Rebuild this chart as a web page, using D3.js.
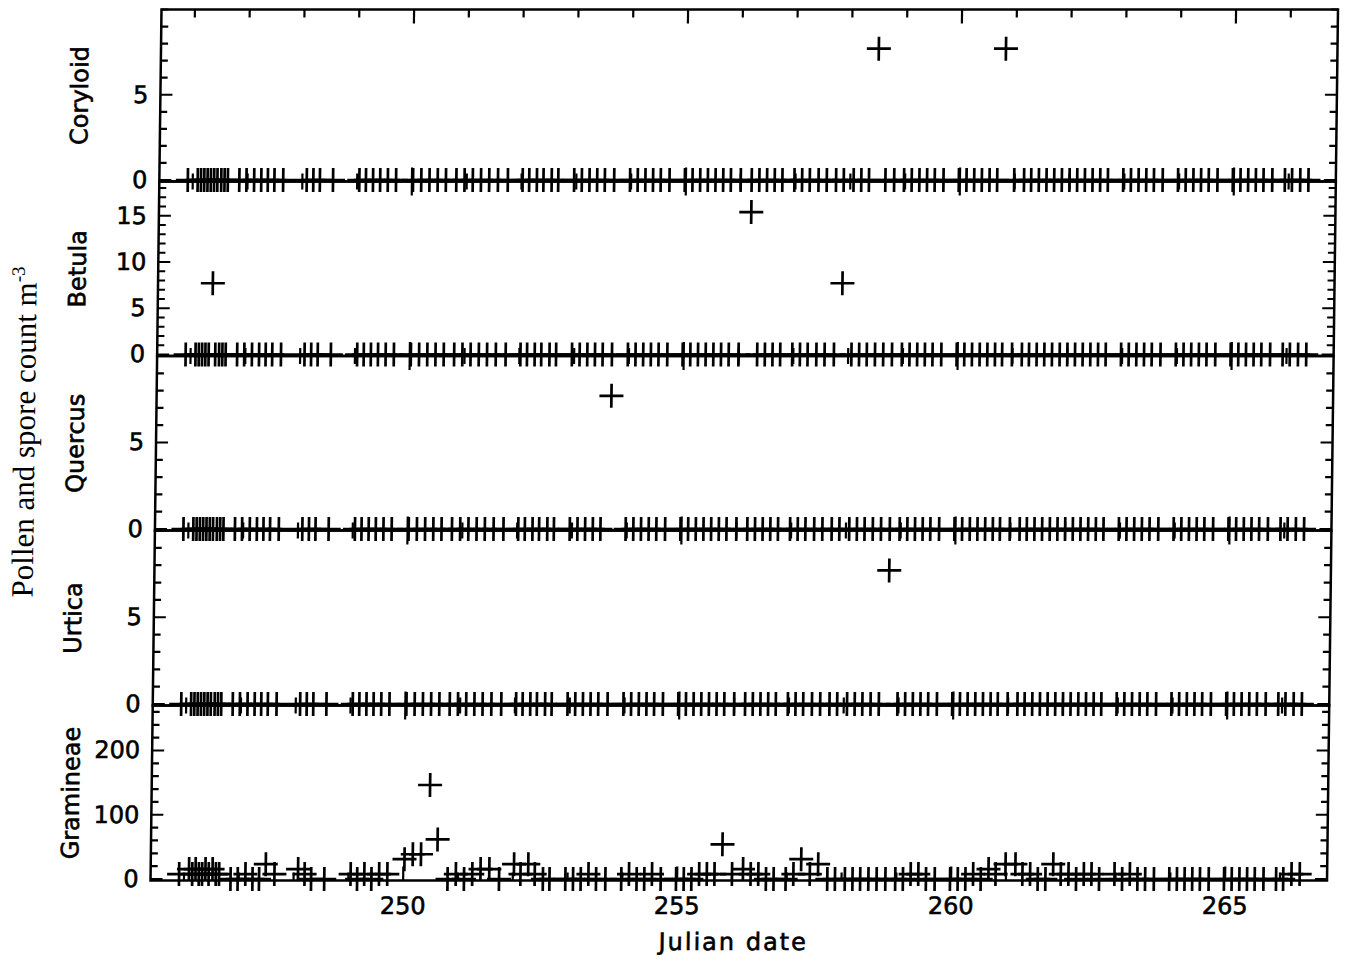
<!DOCTYPE html>
<html><head><meta charset="utf-8">
<script src="https://cdn.jsdelivr.net/npm/d3@7"></script>
<style>html,body{margin:0;padding:0;background:#fff;} svg{display:block;background:#fff}</style>
</head><body>
<svg id="chart" width="1350" height="962"></svg>
<script>
// ---- DATA ----
const sampleTimes = [
  245.91,
  246.09, 246.15, 246.21, 246.27, 246.33, 246.39, 246.45, 246.52, 246.58, 246.64,
  246.85, 246.98, 247.12, 247.25, 247.37, 247.49, 247.65,
  248.08, 248.20, 248.32, 248.56,
  249.04, 249.16, 249.29, 249.42, 249.56, 249.71,
  250.02, 250.17, 250.32, 250.47, 250.62, 250.81,
  250.96, 251.11, 251.26, 251.41, 251.57, 251.75,
  252.02, 252.14, 252.28, 252.40, 252.55, 252.67,
  252.96, 253.10, 253.24, 253.38, 253.52, 253.69,
  253.98, 254.12, 254.26, 254.40, 254.54, 254.70,
  254.98, 255.12, 255.26, 255.40, 255.54, 255.68, 255.82,
  256.00, 256.20, 256.34, 256.48, 256.62, 256.76,
  256.98, 257.12, 257.26, 257.42, 257.57, 257.74, 257.88,
  258.06, 258.20, 258.34, 258.49, 258.64, 258.80,
  258.98, 259.12, 259.26, 259.40, 259.54, 259.70,
  259.98, 260.12, 260.26, 260.40, 260.54, 260.68, 260.81,
  260.99, 261.17, 261.30, 261.44, 261.58, 261.72, 261.86,
  262.00, 262.14, 262.28, 262.42, 262.56, 262.70,
  262.98, 263.12, 263.26, 263.40, 263.54, 263.70,
  263.98, 264.12, 264.26, 264.40, 264.54, 264.70,
  264.98, 265.12, 265.26, 265.40, 265.54, 265.70,
  265.93, 266.06, 266.21, 266.36
];
const taxa = ["Coryloid", "Betula", "Quercus", "Urtica", "Gramineae"];
// non-zero counts (m^-3); every other sample time is a zero count
const corylTimes = [258.49, 260.81];
const corylValues = [7.7, 7.7];
const betulaTimes = [246.39, 256.20, 257.88];
const betulaValues = [7.7, 15.4, 7.7];
const quercusTimes = [253.69];
const quercusValues = [7.7];
const urticaTimes = [258.80];
const urticaValues = [7.7];
const gramTimes = [
  245.91, 246.09, 246.15, 246.21, 246.27, 246.33, 246.39, 246.45, 246.52, 246.58, 246.64,
  247.12, 247.49, 247.65, 248.08, 248.20,
  249.04, 249.29, 249.56, 249.71,
  250.02, 250.17, 250.32, 250.47, 250.62,
  250.96, 251.26, 251.41, 251.57,
  252.02, 252.14, 252.28, 252.40,
  253.38, 254.12, 254.54, 255.40, 255.54, 255.68, 255.82,
  256.00, 256.20, 256.34, 256.48,
  257.12, 257.26, 257.42, 257.57,
  259.26, 259.40,
  260.40, 260.68, 260.81, 260.99, 261.17, 261.30, 261.44, 261.86,
  262.00, 262.14, 262.42, 262.56, 262.98, 263.26,
  266.21, 266.36
];
const gramValues = [
  7.7, 15.4, 7.7, 15.4, 7.7, 7.7, 15.4, 7.7, 15.4, 7.7, 7.7,
  7.7, 23.1, 7.7, 15.4, 7.7,
  7.7, 7.7, 7.7, 7.7,
  30.8, 38.5, 38.5, 146.3, 61.6,
  7.7, 7.7, 15.4, 15.4,
  23.1, 7.7, 23.1, 7.7,
  7.7, 7.7, 7.7, 7.7, 7.7, 7.7, 53.9,
  7.7, 15.4, 7.7, 7.7,
  7.7, 30.8, 7.7, 23.1,
  7.7, 7.7,
  7.7, 15.4, 7.7, 23.1, 23.1, 7.7, 7.7, 23.1,
  7.7, 7.7, 7.7, 7.7, 7.7, 7.7,
  7.7, 7.7
];
const yTop = [10, 18.7, 10, 10, 270];
const yMajorTicks = [[0, 5], [0, 5, 10, 15], [0, 5], [0, 5], [0, 100, 200]];
const yMinorStep = [1, 1, 1, 1, 20];
const xMajorTicks = [250, 255, 260, 265];
const xMinorTicks = d3.range(246, 267);
const xDomain = [245.39, 266.86];

// ---- LAYOUT ----
const svg = d3.select("#chart");
const left = 161.5, right = 1338;
const edges = [9.5, 181.5, 356, 530.5, 705.5, 880.5];
const shear = -0.0126;
const root = svg.append("g")
  .attr("transform", `translate(${-shear * 9},0) skewX(${Math.atan(shear) * 180 / Math.PI})`);

const x = d3.scaleLinear().domain(xDomain).range([left, right]);
const font = "'DejaVu Sans', sans-serif";
const sparse = [
  [corylTimes, corylValues], [betulaTimes, betulaValues], [quercusTimes, quercusValues],
  [urticaTimes, urticaValues], [gramTimes, gramValues]
];
function ink(sel) { return sel.attr("fill", "#000").attr("stroke", "#000").attr("stroke-width", 0.6); }

taxa.forEach((name, i) => {
  const top = edges[i], bot = edges[i + 1];
  const y = d3.scaleLinear().domain([0, yTop[i]]).range([bot - 1.5, top]);
  const g = root.append("g");
  const lookup = new Map(sparse[i][0].map((t, k) => [t.toFixed(2), sparse[i][1][k]]));
  const pts = sampleTimes.map(t => ({ t, v: lookup.get(t.toFixed(2)) || 0 }));

  const xt = g.append("g").attr("stroke", "#000").attr("stroke-width", 2.2);
  xMinorTicks.forEach(v => {
    const len = xMajorTicks.includes(v) ? 14 : 8;
    xt.append("line").attr("x1", x(v)).attr("x2", x(v)).attr("y1", bot).attr("y2", bot - len);
    xt.append("line").attr("x1", x(v)).attr("x2", x(v)).attr("y1", top).attr("y2", top + len);
  });
  const minors = d3.range(0, yTop[i] + 1e-6, yMinorStep[i]);
  minors.forEach(v => {
    const len = yMajorTicks[i].includes(v) ? 12 : 7;
    xt.append("line").attr("x1", left).attr("x2", left + len).attr("y1", y(v)).attr("y2", y(v));
    xt.append("line").attr("x1", right).attr("x2", right - len).attr("y1", y(v)).attr("y2", y(v));
  });
  ink(g.append("g").selectAll("text").data(yMajorTicks[i]).join("text")
    .attr("x", left - 12).attr("y", d => y(d))
    .attr("text-anchor", "end").attr("dominant-baseline", "central")
    .attr("font-family", font).attr("font-size", 24)
    .text(d => d));
  const cy = (top + bot) / 2;
  ink(g.append("text").attr("x", 89).attr("y", cy)
    .attr("transform", `rotate(-90,89,${cy})`)
    .attr("text-anchor", "middle").attr("font-family", font).attr("font-size", 24)
    .text(name));
  g.append("g").selectAll("path").data(pts).join("path")
    .attr("transform", d => `translate(${x(d.t)},${y(d.v)})`)
    .attr("d", "M-12,0H12M0,-12V12")
    .attr("stroke", "#000").attr("stroke-width", 2.7).attr("fill", "none");
  g.append("rect").attr("x", left).attr("y", top).attr("width", right - left).attr("height", bot - top)
    .attr("fill", "none").attr("stroke", "#000").attr("stroke-width", 2.5);
});

ink(root.append("g").selectAll("text").data(xMajorTicks).join("text")
  .attr("x", d => x(d)).attr("y", 914).attr("text-anchor", "middle")
  .attr("font-family", font).attr("font-size", 24).text(d => d));
ink(root.append("text").attr("x", 745).attr("y", 950).attr("text-anchor", "middle")
  .attr("font-family", font).attr("font-size", 24).attr("letter-spacing", 2).text("Julian date"));
const ty = 432, tx = 40;
const title = root.append("text").attr("x", tx).attr("y", ty)
  .attr("transform", `rotate(-90,${tx},${ty})`).attr("text-anchor", "middle")
  .attr("font-family", "'Liberation Serif', 'Times New Roman', serif").attr("font-size", 31)
  .attr("fill", "#000");
title.append("tspan").text("Pollen and spore count m");
title.append("tspan").attr("dy", -12).attr("font-size", 19).text("-3");
</script>
</body></html>
